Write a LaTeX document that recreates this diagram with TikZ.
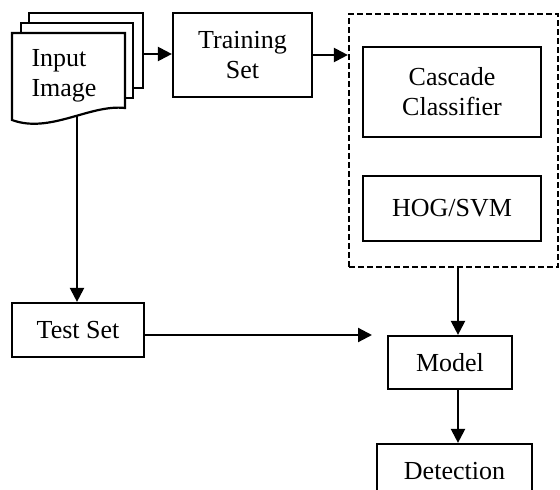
\documentclass[tikz,border=0pt]{standalone}
\usepackage{fontspec}
\setmainfont{Liberation Serif}
\usetikzlibrary{arrows.meta}
\newcommand{\lbl}{\fontsize{26}{30}\selectfont}

\begin{document}
\begin{tikzpicture}[x=1pt,y=-1pt,
   box/.style={draw,line width=2.2pt,fill=white,align=center,inner sep=0pt,font=\lbl},
   arr/.style={line width=2.2pt,-{Triangle[length=14pt,width=14pt]}}]
   \clip (0,0) rectangle (560,490);
   \filldraw[fill=white,line width=2.2pt] (29,13) rectangle (143,88);
   \filldraw[fill=white,line width=2.2pt] (21,23) rectangle (133,98);
   \filldraw[fill=white,line width=2.2pt]
    (12,33) -- (12,120) .. controls (50,134) and (90,104) .. (125,108) -- (125,33) -- cycle;
   \node[align=left,font=\lbl] (img) at (64,76) {Input\\Image};
   \coordinate (docs) at (143,54);
   \coordinate (wave) at (77,115);
   \coordinate (tip) at (372,335);
   \coordinate (mid) at (458,0);
   \node[box,minimum width=139,minimum height=84] (train) at (242.5,55) {Training\\Set};
   \node[box,dash pattern=on 6pt off 3pt,minimum width=209,minimum height=253] (clf) at (453.5,140.5) {};
   \node[box,minimum width=178,minimum height=90] (cascade) at (452,92) {Cascade\\Classifier};
   \node[box,minimum width=178,minimum height=65] (hog) at (452,208.5) {HOG/SVM};
   \node[box,minimum width=132,minimum height=54] (test) at (78,330) {Test Set};
   \node[box,minimum width=124,minimum height=53] (model) at (450,362.5) {Model};
   \node[box,minimum width=155,minimum height=54] (detect) at (454.5,471) {Detection};
   \draw[arr] (docs) -- (train.west |- docs);
   \draw[arr] (train.east) -- (train.east -| clf.west);
   \draw[arr] (wave) -- (wave |- test.north);
   \draw[arr] (test.east |- tip) -- (tip);
   \draw[arr] (clf.south -| mid) -- (model.north -| mid);
   \draw[arr] (model.south -| mid) -- (detect.north -| mid);
  \end{tikzpicture}
\end{document}
